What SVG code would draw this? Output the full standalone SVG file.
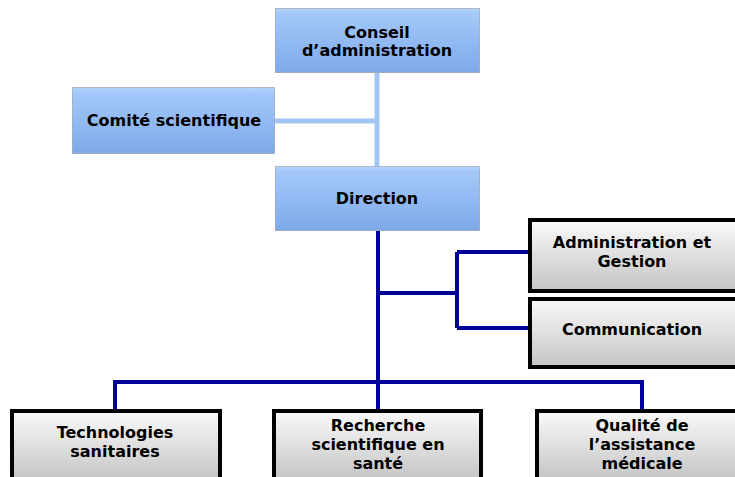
<svg xmlns="http://www.w3.org/2000/svg" width="735" height="477" viewBox="0 0 735 477">
<defs>
<linearGradient id="gBlue" x1="0" y1="0" x2="0" y2="1">
<stop offset="0" stop-color="#b4d5fd"/>
<stop offset="0.08" stop-color="#a3c9fa"/>
<stop offset="1" stop-color="#7ea8e9"/>
</linearGradient>
<linearGradient id="gGray" x1="0" y1="0" x2="0" y2="1">
<stop offset="0" stop-color="#fafafa"/>
<stop offset="1" stop-color="#c4c4c4"/>
</linearGradient>
</defs>
<style>
.blue{fill:url(#gBlue);stroke:#7f848c;stroke-width:1;stroke-dasharray:1 1}
.gray{fill:url(#gGray);stroke:#000;stroke-width:4}
.t{font-family:"DejaVu Sans",Verdana,sans-serif;font-weight:bold;font-size:16px;fill:#000;text-anchor:middle}
.lc{fill:none;stroke:#a3c6f4;stroke-width:5}
.dc{fill:none;stroke:#000099;stroke-width:4}
</style>
<rect width="735" height="477" fill="#fff"/>
<g id="connectors">
<path class="lc" d="M377 73V166M275 121H377"/>
<path class="dc" d="M378 231V382M378 293H457M457 252V328M457 252H533M457 328H533"/>
<path class="dc" d="M115 409V382H642V409M378 382V409"/>
</g>
<g id="conseil">
<rect class="blue" x="275.5" y="8.5" width="204" height="64"/>
<text class="t" x="377" y="38">Conseil</text>
<text class="t" x="377" y="56">d’administration</text>
</g>
<g id="comite">
<rect class="blue" x="72.5" y="87.5" width="202" height="66"/>
<text class="t" x="174" y="126">Comité scientifique</text>
</g>
<g id="direction">
<rect class="blue" x="275.5" y="166.5" width="204" height="64"/>
<text class="t" x="377" y="204">Direction</text>
</g>
<g id="admin">
<rect class="gray" x="530" y="220" width="210" height="71"/>
<text class="t" x="632" y="248">Administration et</text>
<text class="t" x="632" y="267">Gestion</text>
</g>
<g id="communication">
<rect class="gray" x="530" y="299" width="210" height="68"/>
<text class="t" x="632" y="335">Communication</text>
</g>
<g id="technologies">
<rect class="gray" x="12" y="411" width="208" height="70"/>
<text class="t" x="115" y="438">Technologies</text>
<text class="t" x="115" y="457">sanitaires</text>
</g>
<g id="recherche">
<rect class="gray" x="274" y="411" width="207" height="70"/>
<text class="t" x="378" y="431">Recherche</text>
<text class="t" x="378" y="450">scientifique en</text>
<text class="t" x="378" y="469">santé</text>
</g>
<g id="qualite">
<rect class="gray" x="537" y="411" width="205" height="70"/>
<text class="t" x="642" y="431">Qualité de</text>
<text class="t" x="642" y="450">l’assistance</text>
<text class="t" x="642" y="469">médicale</text>
</g>
</svg>
